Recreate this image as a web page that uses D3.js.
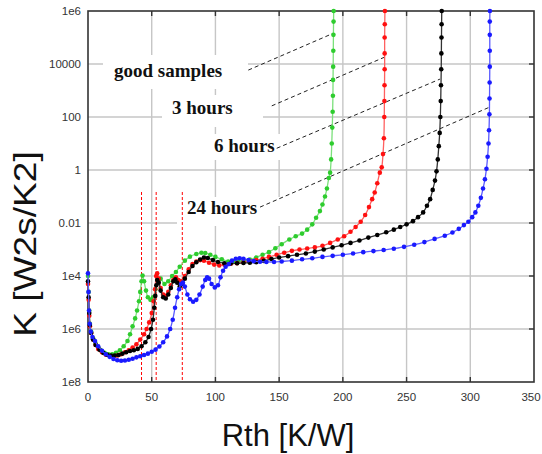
<!DOCTYPE html>
<html><head><meta charset="utf-8">
<script src="https://cdn.jsdelivr.net/npm/d3@7"></script>
<style>html,body{margin:0;padding:0;background:#fff;}svg{display:block;}</style>
</head><body>
<svg id="c" width="542" height="454"></svg>
<script>
// ---------- DATA ----------
const xTicks = [0, 50, 100, 150, 200, 250, 300, 350];
const yTickValues = [1e-8, 1e-6, 1e-4, 1e-2, 1, 100, 1e4, 1e6];
const yTickLabels = ["1e8", "1e6", "1e4", "0.01", "1", "100", "10000", "1e6"];

const seriesNames = ["good samples", "3 hours", "6 hours", "24 hours"];
const seriesColors = ["#2ecc2e", "#ff1010", "#000000", "#1a1aff"];
const lineColors = ["#7be07b", "#ff6060", "#333333", "#5a5aff"];

// Rth [K/W] and log10(K)
const greenRth = [0,0.5,1,1.5,2.5,4,6,8,10,13,16,19,22,25,28,31,33,35,37,38.5,40,41,42,42.8,44,45.5,47,49,51,53,55,57,60,63,66,69,72,76,80,85,89,92,96,100,105,110,114,118,122,127,132,137,142,147,152,158,163,168,172,176,179,182,184,186,187.5,189,190,190.8,191.3,191.7,192,192.2,192.3,192.4,192.5,192.6,192.7,192.8];
const greenLogK = [-4.0,-4.6,-5.3,-5.8,-6.1,-6.35,-6.55,-6.7,-6.8,-6.9,-6.95,-6.95,-6.9,-6.8,-6.65,-6.45,-6.2,-5.9,-5.6,-5.3,-4.95,-4.6,-4.2,-3.98,-4.2,-4.55,-4.8,-4.9,-4.8,-4.5,-4.2,-4.1,-4.3,-4.2,-4.0,-3.85,-3.65,-3.42,-3.27,-3.17,-3.12,-3.13,-3.2,-3.28,-3.37,-3.45,-3.47,-3.45,-3.42,-3.38,-3.3,-3.2,-3.1,-2.95,-2.8,-2.62,-2.5,-2.4,-2.25,-2.05,-1.8,-1.55,-1.3,-1.0,-0.7,-0.3,-0.1,0.4,1.0,1.6,2.2,2.8,3.4,3.9,4.5,5.1,5.6,6.0];

const redRth = [0,0.5,1,1.5,2.5,4,6,8,11,14,17,20,23,26,29,32,35,38,41,44,46,48,50,51.5,52.6,53.5,54.3,55.5,57,59,61,63,65,67,69,71,73,76,79,82,85,88,91,95,99,103,107,112,117,122,127,132,137,142,148,154,160,166,172,178,184,190,196,201,206,210,214,217.5,220.5,223,225,227,229,230.5,231.5,232.2,232.5,232.6,232.7,232.8,232.8,232.8,232.9,233];
const redLogK = [-4.3,-4.9,-5.5,-5.9,-6.15,-6.4,-6.6,-6.75,-6.88,-6.97,-7.02,-7.03,-7.0,-6.95,-6.88,-6.8,-6.7,-6.58,-6.4,-6.2,-6.0,-5.75,-5.4,-4.95,-4.5,-4.0,-3.9,-4.1,-4.45,-4.7,-4.75,-4.6,-4.35,-4.15,-4.05,-4.15,-4.2,-4.0,-3.75,-3.55,-3.45,-3.4,-3.42,-3.5,-3.57,-3.6,-3.57,-3.54,-3.52,-3.48,-3.44,-3.4,-3.35,-3.28,-3.2,-3.12,-3.05,-3.0,-2.96,-2.92,-2.86,-2.75,-2.62,-2.5,-2.33,-2.15,-1.95,-1.7,-1.4,-1.1,-0.85,-0.5,-0.1,0.1,0.6,1.2,2.0,2.6,3.2,3.8,4.4,5.0,5.5,6.0];

const blackRth = [0,0.5,1,1.5,2.5,4,6,9,12,15,18,21,24,27,30,33,36,39,42,45,47.5,49.5,51,52,52.8,53.6,54.3,55.5,57,59,61,63,65,67,68.5,70,72,74,76,79,82,85,88,91,94,98,102,107,112,117,122,127,132,138,144,150,157,164,171,178,185,192,199,206,213,220,227,234,240,245,250,255,259,263,266,268.5,270.5,272.3,273.5,274.5,275.3,276,276.5,276.8,277,277.2,277.3,277.4,277.5,277.6];
const blackLogK = [-4.2,-4.8,-5.4,-5.85,-6.15,-6.4,-6.6,-6.78,-6.9,-6.97,-7.0,-7.0,-6.98,-6.93,-6.88,-6.83,-6.8,-6.75,-6.65,-6.5,-6.3,-6.0,-5.65,-5.2,-4.75,-4.35,-4.15,-4.25,-4.55,-4.8,-4.85,-4.7,-4.45,-4.2,-4.12,-4.25,-4.4,-4.3,-4.1,-3.85,-3.62,-3.48,-3.38,-3.3,-3.32,-3.4,-3.47,-3.52,-3.53,-3.52,-3.51,-3.5,-3.48,-3.43,-3.36,-3.3,-3.25,-3.2,-3.15,-3.08,-3.0,-2.92,-2.84,-2.75,-2.66,-2.55,-2.45,-2.35,-2.25,-2.15,-2.05,-1.93,-1.78,-1.6,-1.35,-1.1,-0.75,-0.4,-0.05,0.4,0.9,1.4,2.0,2.6,3.2,3.8,4.4,5.0,5.5,6.0];

const blueRth = [0,0.4,0.8,1.3,2.2,3.5,5.5,8,11,14,17,20,23,26,29,32,35,38,41,44,47,50,53,56,59,62,64.5,66.5,68.3,70,71.5,73,74.5,76,78,80,82.5,85,87.5,90,92,93.5,95,97,99.5,102,104,106,108,110.5,113,116,119,122,126,130,135,140,146,152,160,168,176,184,192,200,208,216,224,232,240,248,256,264,272,280,286,291,295,298.5,301.5,304,306.3,308.3,310,311.5,312.7,313.6,314.3,314.7,315,315.1,315.2,315.3,315.3,315.3,315.3,315.4];
const blueLogK = [-3.9,-4.6,-5.3,-5.8,-6.1,-6.3,-6.45,-6.65,-6.82,-6.95,-7.05,-7.13,-7.18,-7.2,-7.19,-7.16,-7.12,-7.07,-7.03,-6.98,-6.93,-6.86,-6.78,-6.66,-6.5,-6.28,-6.0,-5.65,-5.2,-4.8,-4.5,-4.3,-4.25,-4.4,-4.7,-4.88,-4.97,-4.9,-4.7,-4.4,-4.15,-4.05,-4.1,-4.3,-4.43,-4.35,-4.05,-3.8,-3.65,-3.55,-3.42,-3.35,-3.33,-3.35,-3.4,-3.44,-3.46,-3.47,-3.47,-3.45,-3.42,-3.37,-3.33,-3.28,-3.24,-3.2,-3.15,-3.1,-3.06,-3.02,-2.97,-2.9,-2.82,-2.72,-2.6,-2.48,-2.36,-2.22,-2.08,-1.95,-1.78,-1.6,-1.35,-1.05,-0.7,-0.35,0.05,0.5,1.0,1.5,2.1,2.7,3.3,3.9,4.5,5.1,5.6,6.0];

// vertical marker lines (Rth) and their top (log10 K)
const markerRth = [42, 53.5, 74];
const markerTopLogK = -0.83;

// annotation leader lines: [Rth0, logK0, Rth1, logK1]
const leaders = [
  [125.8, 3.77, 192.5, 5.16],
  [144.2, 2.42, 232.3, 4.25],
  [148.1, 0.82, 276.2, 3.43],
  [135.0, -1.40, 315.5, 2.38]
];

// ---------- LAYOUT ----------
const L = 88, R = 534, T = 11, B = 382;
const svg = d3.select("#c");
const x = d3.scaleLinear().domain([0, 350]).range([L, R]);
const y = d3.scaleLog().domain([1e-8, 1e6]).range([B, T]);

// grid
svg.append("g").selectAll("line").data(xTicks.slice(1, -1)).join("line")
  .attr("x1", d => x(d)).attr("x2", d => x(d)).attr("y1", T).attr("y2", B)
  .attr("stroke", "#c6c6c6").attr("stroke-width", 1.4);
svg.append("g").selectAll("line").data(yTickValues.slice(1, -1)).join("line")
  .attr("y1", d => y(d)).attr("y2", d => y(d)).attr("x1", L).attr("x2", R)
  .attr("stroke", "#c6c6c6").attr("stroke-width", 1.4);

// white label boxes covering grid
const boxes = [[103, 55, 145, 34], [162, 95, 101, 32], [205, 134, 77, 26], [177, 197, 103, 29]];
svg.append("g").selectAll("rect").data(boxes).join("rect")
  .attr("x", d => d[0]).attr("y", d => d[1]).attr("width", d => d[2]).attr("height", d => d[3])
  .attr("fill", "#fff");

// frame & inward ticks
svg.append("rect").attr("x", L).attr("y", T).attr("width", R - L).attr("height", B - T)
  .attr("fill", "none").attr("stroke", "#333").attr("stroke-width", 1.6);
const tk = svg.append("g").attr("stroke", "#333").attr("stroke-width", 1.4);
xTicks.slice(1, -1).forEach(v => {
  tk.append("line").attr("x1", x(v)).attr("x2", x(v)).attr("y1", T).attr("y2", T + 5);
  tk.append("line").attr("x1", x(v)).attr("x2", x(v)).attr("y1", B).attr("y2", B - 5);
});
yTickValues.slice(1, -1).forEach(v => {
  tk.append("line").attr("y1", y(v)).attr("y2", y(v)).attr("x1", R).attr("x2", R - 5);
});

// tick labels
svg.append("g").selectAll("text").data(yTickValues).join("text")
  .attr("x", 81).attr("y", d => y(d) + 4)
  .attr("text-anchor", "end").attr("font-family", "Liberation Sans, Arial, sans-serif")
  .attr("font-size", 11.5).attr("fill", "#333")
  .text((d, i) => yTickLabels[i]);
svg.append("g").selectAll("text").data(xTicks).join("text")
  .attr("x", d => Math.min(x(d), 531)).attr("y", 401)
  .attr("text-anchor", "middle").attr("font-family", "Liberation Sans, Arial, sans-serif")
  .attr("font-size", 11.5).attr("fill", "#333")
  .text(d => d);

// axis titles
svg.append("text").attr("transform", "translate(36,244) rotate(-90) scale(1.16,1)")
  .attr("text-anchor", "middle").attr("font-family", "Liberation Sans, Arial, sans-serif")
  .attr("font-size", 32).attr("fill", "#111").text("K [W2s/K2]");
svg.append("text").attr("x", 288).attr("y", 446)
  .attr("text-anchor", "middle").attr("font-family", "Liberation Sans, Arial, sans-serif")
  .attr("font-size", 31).attr("fill", "#111").text("Rth [K/W]");

// red dashed vertical lines
svg.append("g").selectAll("line").data(markerRth).join("line")
  .attr("x1", d => x(d)).attr("x2", d => x(d))
  .attr("y1", y(Math.pow(10, markerTopLogK))).attr("y2", B)
  .attr("stroke", "#ff0000").attr("stroke-width", 1).attr("stroke-dasharray", "3,2");

// leader lines
svg.append("g").selectAll("line").data(leaders).join("line")
  .attr("x1", d => x(d[0])).attr("y1", d => y(Math.pow(10, d[1])))
  .attr("x2", d => x(d[2])).attr("y2", d => y(Math.pow(10, d[3])))
  .attr("stroke", "#222").attr("stroke-width", 1).attr("stroke-dasharray", "4,3");

// series
const all = [[greenRth, greenLogK], [redRth, redLogK], [blackRth, blackLogK], [blueRth, blueLogK]];
const line = d3.line().x(d => x(d[0])).y(d => y(d[1])).curve(d3.curveCatmullRom);
all.forEach((s, i) => {
  const pts = s[0].map((r, j) => [r, Math.pow(10, s[1][j])]);
  const g = svg.append("g");
  g.append("path").attr("d", line(pts)).attr("fill", "none")
    .attr("stroke", lineColors[i]).attr("stroke-width", 1.3);
  g.selectAll("circle").data(pts).join("circle")
    .attr("cx", d => x(d[0])).attr("cy", d => y(d[1])).attr("r", 2.3)
    .attr("fill", seriesColors[i]);
});

// annotation texts
const labelPos = [[114, 77], [172, 114], [214, 152], [187, 214]];
svg.append("g").selectAll("text").data(seriesNames).join("text")
  .attr("x", (d, i) => labelPos[i][0]).attr("y", (d, i) => labelPos[i][1])
  .attr("font-family", "Liberation Serif, Times New Roman, serif")
  .attr("font-weight", "bold").attr("font-size", 19).attr("fill", "#111")
  .text(d => d);
</script>
</body></html>
